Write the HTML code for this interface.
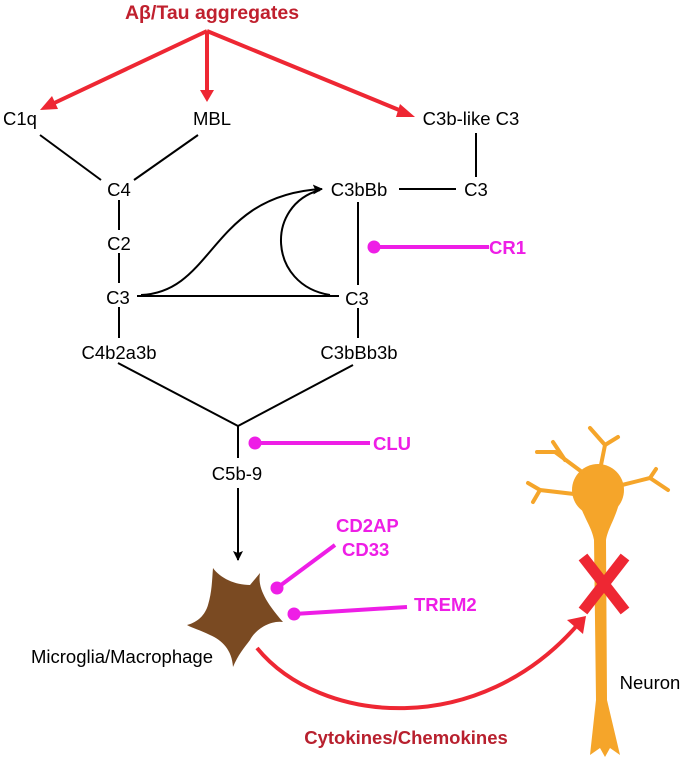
<!DOCTYPE html>
<html><head><meta charset="utf-8"><style>
html,body{margin:0;padding:0;background:#fff;}
svg{display:block;}
text{font-family:"Liberation Sans",Arial,sans-serif;}
</style></head><body>
<svg width="685" height="760" viewBox="0 0 685 760" xmlns="http://www.w3.org/2000/svg">
<defs>
<marker id="ar" markerWidth="10" markerHeight="10" refX="9" refY="5" orient="auto" markerUnits="userSpaceOnUse"><path d="M0,0 L10,5 L0,10 L2,5 Z" fill="#000"/></marker>
</defs>
<text x="212" y="19" font-size="19.5" font-weight="bold" fill="#c0202e" text-anchor="middle">Aβ/Tau aggregates</text>
<g stroke="#ee2733" stroke-width="4" fill="none">
<line x1="207" y1="31" x2="50" y2="105"/>
<line x1="207" y1="31" x2="207" y2="92"/>
<line x1="207" y1="31" x2="404" y2="112"/>
</g>
<g fill="#ee2733">
<polygon points="40,110 52,96 58,109"/>
<polygon points="200,90 214,90 207,102"/>
<polygon points="415,117 400,104 396,117"/>
</g>
<g font-size="18.5" fill="#000" text-anchor="middle">
<text x="20" y="125">C1q</text>
<text x="212" y="125">MBL</text>
<text x="471" y="125">C3b-like C3</text>
<text x="119" y="196">C4</text>
<text x="119" y="250">C2</text>
<text x="118" y="304">C3</text>
<text x="119" y="359">C4b2a3b</text>
<text x="359" y="196">C3bBb</text>
<text x="476" y="196">C3</text>
<text x="357" y="305">C3</text>
<text x="359" y="359">C3bBb3b</text>
<text x="237" y="480">C5b-9</text>
<text x="122" y="663">Microglia/Macrophage</text>
<text x="650" y="689">Neuron</text>
</g>
<g stroke="#000" stroke-width="2" fill="none">
<line x1="40" y1="135" x2="101" y2="180"/>
<line x1="198" y1="135" x2="134" y2="180"/>
<line x1="119" y1="200" x2="119" y2="230"/>
<line x1="119" y1="253" x2="119" y2="283"/>
<line x1="119" y1="307" x2="119" y2="338"/>
<line x1="399" y1="189" x2="456" y2="189"/>
<line x1="476" y1="133" x2="476" y2="177"/>
<line x1="358" y1="202" x2="358" y2="285"/>
<line x1="358" y1="308" x2="358" y2="338"/>
<line x1="137" y1="296" x2="339" y2="296"/>
<line x1="118" y1="363" x2="238" y2="426"/>
<line x1="353" y1="365" x2="238" y2="426"/>
<line x1="238" y1="426" x2="238" y2="458"/>
<path d="M141,295 C215,292 210,195 322,189" marker-end="url(#ar)"/>
<path d="M330,295 C268,285 265,205 320,190"/>
<line x1="238" y1="488" x2="238" y2="560" marker-end="url(#ar)"/>
</g>
<g stroke="#ee1ee6" stroke-width="4" fill="#ee1ee6">
<line x1="374" y1="247" x2="489" y2="247"/><circle cx="374" cy="247" r="6.5" stroke="none"/>
<line x1="255" y1="443" x2="370" y2="443"/><circle cx="255" cy="443" r="6.5" stroke="none"/>
<line x1="277" y1="588" x2="335" y2="545"/><circle cx="277" cy="588" r="6.5" stroke="none"/>
<line x1="294" y1="614" x2="407" y2="607"/><circle cx="294" cy="614" r="6.5" stroke="none"/>
</g>
<g font-size="18.5" font-weight="bold" fill="#ee1ee6">
<text x="489" y="254">CR1</text>
<text x="373" y="450">CLU</text>
<text x="336" y="532">CD2AP</text>
<text x="342" y="556">CD33</text>
<text x="414" y="611">TREM2</text>
</g>
<path d="M213,568 C220,578 235,585 250,585 L260,573 C258,585 262,598 283,622 C270,620 255,630 250,640 C244,648 238,655 233,667 C232,650 222,640 210,635 C200,630 192,628 187,625 C198,622 205,615 208,605 C212,592 212,580 213,568 Z" fill="#7a4a22"/>
<path d="M257,648 C320,725 480,740 580,622" stroke="#ee2733" stroke-width="4" fill="none"/>
<polygon points="586,616 567,620 583,634" fill="#ee2733"/>
<text x="406" y="744" font-size="18.5" font-weight="bold" fill="#b8202e" text-anchor="middle">Cytokines/Chemokines</text>
<g fill="#f5a52a" stroke="#f5a52a">
<circle cx="598" cy="490" r="26" stroke="none"/>
<path d="M578,500 C585,520 592,528 594,540 L596,700 L590,755 L600,748 L605,757 L610,748 L620,755 L607,700 L606,540 C608,528 615,520 620,500 Z" stroke="none"/>
<g stroke-width="4" fill="none" stroke-linecap="round">
<path d="M600,470 L605,445 L590,428"/><path d="M605,445 L618,437"/>
<path d="M582,472 L555,452 L537,452"/><path d="M565,460 L553,442"/>
<path d="M574,494 L540,490 L528,483"/><path d="M540,490 L533,502"/>
<path d="M622,485 L650,478 L656,469"/><path d="M650,478 L668,490"/>
</g>
</g>
<g stroke="#ee2733" stroke-width="11" stroke-linecap="butt">
<line x1="583" y1="557" x2="625" y2="611"/>
<line x1="625" y1="557" x2="583" y2="611"/>
</g>
</svg>
</body></html>
